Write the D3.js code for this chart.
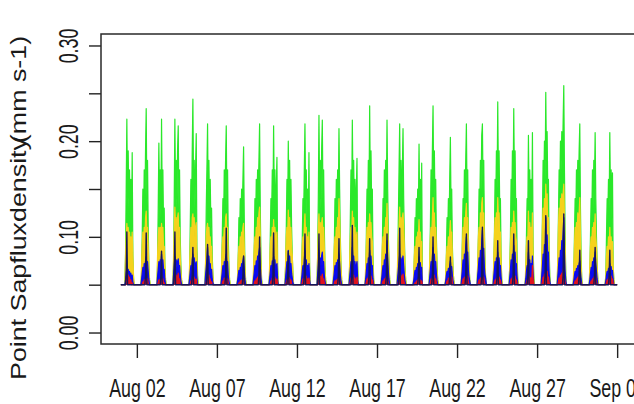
<!DOCTYPE html>
<html>
<head>
<meta charset="utf-8">
<script src="https://cdn.jsdelivr.net/npm/d3@7"></script>
<style>
  html, body { margin: 0; padding: 0; background: #fff; }
  svg { display: block; }
  text { font-family: "Liberation Sans", Arial, sans-serif; fill: #1a1a1a; }
</style>
</head>
<body>
<svg id="chart" width="634" height="404"></svg>
<script>
// Point sap flux density, August, five sensors.
// Each day is given as readings at the hours below; outside them the flux sits at the night floor.
const firstDay = "2016-08-01";
const hours = [7, 8, 9, 10, 11, 12, 13, 14, 15, 16, 17, 18, 19];
const nightValue = 0.05;

const xTickDates = ["2016-08-02", "2016-08-07", "2016-08-12", "2016-08-17", "2016-08-22", "2016-08-27", "2016-09-01"];
const yTicks = [0, 0.05, 0.10, 0.15, 0.20, 0.25, 0.30];
const yLabelled = [0, 0.10, 0.20, 0.30];
const yLimits = [0, 0.30];

const seriesGreen = [
  [0.08,0.15,0.223,0.14,0.19,0.13,0.17,0.12,0.16,0.11,0.188,0.08,0.055],
  [0.06,0.10,0.15,0.11,0.17,0.13,0.19,0.234,0.14,0.18,0.11,0.07,0.055],
  [0.07,0.13,0.198,0.13,0.17,0.12,0.223,0.14,0.17,0.11,0.13,0.07,0.055],
  [0.07,0.14,0.223,0.14,0.18,0.13,0.19,0.216,0.13,0.17,0.10,0.07,0.055],
  [0.06,0.11,0.16,0.12,0.19,0.244,0.15,0.18,0.13,0.17,0.208,0.09,0.06],
  [0.07,0.13,0.17,0.218,0.13,0.18,0.12,0.16,0.11,0.13,0.08,0.06,0.05],
  [0.06,0.10,0.14,0.11,0.17,0.13,0.18,0.216,0.13,0.17,0.10,0.07,0.055],
  [0.055,0.08,0.12,0.10,0.14,0.11,0.15,0.12,0.16,0.194,0.12,0.07,0.055],
  [0.06,0.09,0.14,0.11,0.16,0.13,0.17,0.14,0.18,0.218,0.13,0.08,0.055],
  [0.06,0.10,0.14,0.12,0.17,0.13,0.216,0.14,0.17,0.12,0.15,0.183,0.07],
  [0.07,0.11,0.16,0.12,0.20,0.14,0.18,0.12,0.16,0.11,0.08,0.06,0.05],
  [0.06,0.10,0.14,0.12,0.17,0.218,0.14,0.17,0.12,0.15,0.11,0.188,0.07],
  [0.08,0.14,0.227,0.14,0.18,0.13,0.19,0.222,0.14,0.17,0.11,0.07,0.055],
  [0.06,0.09,0.14,0.11,0.16,0.13,0.17,0.14,0.213,0.15,0.10,0.07,0.055],
  [0.07,0.12,0.17,0.13,0.222,0.15,0.18,0.13,0.16,0.12,0.15,0.182,0.07],
  [0.06,0.10,0.15,0.13,0.18,0.14,0.237,0.15,0.19,0.13,0.15,0.08,0.055],
  [0.06,0.09,0.14,0.12,0.17,0.13,0.18,0.14,0.222,0.15,0.10,0.07,0.055],
  [0.07,0.12,0.17,0.218,0.14,0.18,0.13,0.17,0.213,0.14,0.10,0.07,0.055],
  [0.055,0.08,0.12,0.10,0.14,0.11,0.15,0.12,0.197,0.13,0.16,0.11,0.177],
  [0.07,0.11,0.17,0.13,0.19,0.237,0.15,0.19,0.13,0.16,0.10,0.07,0.055],
  [0.055,0.08,0.12,0.10,0.14,0.11,0.16,0.204,0.13,0.15,0.09,0.065,0.055],
  [0.06,0.10,0.14,0.12,0.17,0.14,0.18,0.218,0.14,0.17,0.10,0.07,0.055],
  [0.07,0.10,0.15,0.13,0.18,0.15,0.206,0.218,0.15,0.18,0.11,0.07,0.055],
  [0.07,0.10,0.16,0.13,0.19,0.15,0.241,0.16,0.19,0.13,0.14,0.08,0.055],
  [0.07,0.10,0.16,0.13,0.19,0.15,0.234,0.16,0.19,0.13,0.14,0.08,0.055],
  [0.06,0.10,0.14,0.12,0.206,0.14,0.17,0.13,0.16,0.12,0.209,0.09,0.06],
  [0.07,0.12,0.18,0.15,0.20,0.16,0.251,0.18,0.21,0.15,0.16,0.09,0.06],
  [0.07,0.12,0.17,0.15,0.20,0.17,0.21,0.18,0.22,0.258,0.17,0.10,0.06],
  [0.06,0.10,0.14,0.12,0.17,0.14,0.18,0.15,0.19,0.218,0.13,0.08,0.055],
  [0.06,0.10,0.14,0.12,0.17,0.13,0.18,0.15,0.209,0.14,0.10,0.07,0.055],
  [0.06,0.10,0.14,0.12,0.16,0.13,0.209,0.14,0.17,0.12,0.167,0.07,0.055]
];

const seriesGold = [
  [0.08,0.10,0.114,0.10,0.11,0.095,0.105,0.09,0.10,0.085,0.105,0.08,0.06],
  [0.07,0.09,0.105,0.095,0.11,0.10,0.12,0.127,0.105,0.11,0.09,0.07,0.055],
  [0.08,0.10,0.11,0.095,0.11,0.10,0.114,0.10,0.11,0.09,0.09,0.07,0.055],
  [0.08,0.11,0.131,0.11,0.12,0.10,0.12,0.125,0.10,0.11,0.08,0.065,0.055],
  [0.07,0.09,0.11,0.095,0.12,0.124,0.11,0.12,0.10,0.11,0.115,0.08,0.055],
  [0.075,0.10,0.11,0.114,0.10,0.11,0.095,0.10,0.085,0.09,0.07,0.06,0.05],
  [0.07,0.09,0.10,0.095,0.11,0.10,0.12,0.124,0.10,0.11,0.08,0.065,0.055],
  [0.06,0.08,0.09,0.085,0.10,0.09,0.105,0.10,0.11,0.114,0.09,0.07,0.055],
  [0.07,0.09,0.10,0.095,0.11,0.10,0.12,0.11,0.125,0.131,0.10,0.075,0.055],
  [0.07,0.09,0.10,0.095,0.11,0.10,0.118,0.10,0.11,0.095,0.10,0.105,0.065],
  [0.075,0.10,0.11,0.10,0.128,0.11,0.12,0.10,0.11,0.09,0.08,0.06,0.05],
  [0.07,0.09,0.10,0.095,0.11,0.124,0.10,0.11,0.095,0.10,0.09,0.105,0.065],
  [0.08,0.11,0.124,0.10,0.115,0.10,0.115,0.12,0.10,0.11,0.09,0.065,0.055],
  [0.07,0.09,0.10,0.095,0.11,0.10,0.12,0.11,0.14,0.12,0.09,0.07,0.055],
  [0.075,0.10,0.11,0.10,0.127,0.11,0.12,0.10,0.11,0.095,0.10,0.105,0.065],
  [0.07,0.09,0.11,0.10,0.115,0.105,0.124,0.11,0.115,0.10,0.095,0.07,0.055],
  [0.07,0.09,0.10,0.095,0.11,0.10,0.12,0.11,0.135,0.11,0.09,0.07,0.055],
  [0.08,0.10,0.11,0.131,0.11,0.12,0.10,0.12,0.125,0.11,0.09,0.065,0.055],
  [0.06,0.08,0.09,0.085,0.10,0.09,0.105,0.10,0.118,0.10,0.105,0.09,0.095],
  [0.075,0.10,0.11,0.10,0.12,0.141,0.11,0.125,0.10,0.11,0.09,0.065,0.055],
  [0.06,0.08,0.09,0.085,0.10,0.09,0.105,0.117,0.10,0.105,0.08,0.065,0.055],
  [0.07,0.09,0.11,0.10,0.12,0.11,0.125,0.135,0.11,0.12,0.09,0.07,0.055],
  [0.075,0.10,0.11,0.10,0.125,0.11,0.135,0.141,0.11,0.125,0.10,0.07,0.055],
  [0.075,0.10,0.12,0.10,0.125,0.11,0.141,0.12,0.125,0.10,0.105,0.075,0.055],
  [0.07,0.09,0.11,0.10,0.115,0.105,0.127,0.11,0.115,0.10,0.095,0.07,0.055],
  [0.07,0.09,0.10,0.095,0.127,0.10,0.115,0.10,0.11,0.10,0.125,0.08,0.055],
  [0.08,0.11,0.13,0.11,0.14,0.12,0.155,0.13,0.145,0.11,0.12,0.08,0.055],
  [0.08,0.11,0.13,0.11,0.14,0.13,0.145,0.13,0.145,0.155,0.12,0.09,0.055],
  [0.07,0.09,0.11,0.10,0.115,0.105,0.125,0.11,0.125,0.141,0.10,0.07,0.055],
  [0.07,0.09,0.10,0.095,0.11,0.10,0.115,0.105,0.124,0.10,0.09,0.07,0.055],
  [0.06,0.08,0.09,0.085,0.10,0.09,0.11,0.09,0.10,0.085,0.095,0.07,0.055]
];

const seriesBlue = [
  [0.055,0.062,0.067,0.062,0.066,0.06,0.064,0.058,0.062,0.056,0.06,0.053,0.05],
  [0.055,0.062,0.068,0.064,0.072,0.068,0.075,0.079,0.07,0.074,0.064,0.056,0.05],
  [0.058,0.066,0.074,0.066,0.076,0.07,0.082,0.072,0.076,0.066,0.066,0.056,0.05],
  [0.06,0.07,0.079,0.072,0.076,0.068,0.074,0.077,0.068,0.07,0.06,0.054,0.05],
  [0.056,0.064,0.07,0.066,0.076,0.082,0.072,0.078,0.068,0.072,0.074,0.058,0.05],
  [0.06,0.068,0.076,0.089,0.074,0.08,0.068,0.072,0.062,0.066,0.056,0.052,0.05],
  [0.056,0.063,0.07,0.065,0.074,0.07,0.078,0.082,0.07,0.074,0.06,0.054,0.05],
  [0.054,0.06,0.065,0.062,0.068,0.065,0.072,0.07,0.075,0.079,0.066,0.056,0.05],
  [0.056,0.063,0.07,0.066,0.075,0.07,0.08,0.075,0.084,0.089,0.07,0.058,0.05],
  [0.056,0.063,0.07,0.066,0.075,0.07,0.08,0.072,0.076,0.066,0.07,0.072,0.055],
  [0.058,0.066,0.074,0.068,0.086,0.074,0.08,0.068,0.072,0.062,0.057,0.052,0.05],
  [0.056,0.064,0.07,0.066,0.076,0.086,0.072,0.076,0.066,0.07,0.066,0.072,0.055],
  [0.06,0.07,0.086,0.072,0.078,0.07,0.08,0.084,0.07,0.074,0.06,0.054,0.05],
  [0.056,0.063,0.07,0.065,0.073,0.068,0.076,0.072,0.082,0.072,0.06,0.054,0.05],
  [0.058,0.066,0.074,0.068,0.089,0.075,0.08,0.07,0.074,0.066,0.07,0.074,0.055],
  [0.056,0.064,0.072,0.068,0.078,0.072,0.086,0.074,0.08,0.068,0.07,0.056,0.05],
  [0.056,0.064,0.07,0.066,0.076,0.072,0.082,0.076,0.096,0.078,0.064,0.056,0.05],
  [0.058,0.066,0.074,0.082,0.072,0.078,0.07,0.076,0.08,0.07,0.06,0.054,0.05],
  [0.054,0.06,0.065,0.062,0.068,0.065,0.072,0.07,0.079,0.07,0.073,0.064,0.068],
  [0.058,0.066,0.074,0.068,0.08,0.089,0.074,0.082,0.07,0.074,0.062,0.054,0.05],
  [0.054,0.06,0.064,0.061,0.067,0.064,0.07,0.075,0.066,0.069,0.06,0.054,0.05],
  [0.058,0.066,0.076,0.07,0.082,0.076,0.09,0.10,0.078,0.084,0.066,0.058,0.054],
  [0.06,0.068,0.078,0.072,0.086,0.078,0.095,0.107,0.082,0.088,0.068,0.06,0.056],
  [0.058,0.066,0.074,0.068,0.078,0.072,0.084,0.074,0.078,0.068,0.07,0.058,0.05],
  [0.058,0.066,0.076,0.07,0.082,0.076,0.091,0.078,0.084,0.07,0.072,0.058,0.05],
  [0.056,0.064,0.07,0.066,0.084,0.07,0.076,0.068,0.072,0.068,0.08,0.062,0.05],
  [0.06,0.07,0.082,0.076,0.092,0.082,0.12,0.09,0.102,0.08,0.084,0.062,0.054],
  [0.058,0.068,0.078,0.072,0.086,0.08,0.096,0.088,0.105,0.12,0.084,0.064,0.054],
  [0.054,0.06,0.064,0.061,0.067,0.064,0.07,0.066,0.072,0.075,0.064,0.056,0.05],
  [0.055,0.062,0.068,0.064,0.074,0.07,0.078,0.074,0.084,0.072,0.064,0.056,0.05],
  [0.054,0.06,0.064,0.061,0.067,0.064,0.072,0.066,0.069,0.062,0.065,0.056,0.05]
];

const seriesRed = [
  [0.05,0.055,0.068,0.056,0.06,0.054,0.058,0.052,0.055,0.05,0.052,0.05,0.05],
  [0.05,0.05,0.053,0.051,0.055,0.053,0.057,0.062,0.054,0.056,0.051,0.05,0.05],
  [0.05,0.052,0.055,0.052,0.056,0.053,0.06,0.054,0.056,0.051,0.052,0.05,0.05],
  [0.05,0.054,0.066,0.055,0.06,0.054,0.058,0.062,0.053,0.056,0.051,0.05,0.05],
  [0.05,0.051,0.054,0.052,0.057,0.062,0.055,0.058,0.053,0.055,0.056,0.05,0.05],
  [0.05,0.053,0.057,0.064,0.055,0.06,0.053,0.056,0.051,0.053,0.05,0.05,0.05],
  [0.05,0.051,0.054,0.052,0.057,0.054,0.058,0.062,0.054,0.056,0.051,0.05,0.05],
  [0.05,0.05,0.052,0.051,0.054,0.052,0.055,0.053,0.056,0.058,0.052,0.05,0.05],
  [0.05,0.051,0.054,0.052,0.056,0.054,0.058,0.055,0.06,0.064,0.054,0.05,0.05],
  [0.05,0.051,0.054,0.052,0.057,0.054,0.062,0.055,0.058,0.053,0.055,0.056,0.05],
  [0.05,0.052,0.055,0.052,0.06,0.054,0.057,0.052,0.055,0.051,0.05,0.05,0.05],
  [0.05,0.052,0.056,0.053,0.058,0.066,0.055,0.059,0.053,0.056,0.054,0.057,0.05],
  [0.05,0.054,0.064,0.055,0.059,0.054,0.058,0.061,0.054,0.056,0.052,0.05,0.05],
  [0.05,0.051,0.054,0.052,0.055,0.053,0.056,0.054,0.06,0.055,0.052,0.05,0.05],
  [0.05,0.053,0.057,0.054,0.066,0.056,0.06,0.054,0.057,0.053,0.055,0.058,0.05],
  [0.05,0.052,0.056,0.053,0.058,0.055,0.064,0.056,0.059,0.054,0.055,0.051,0.05],
  [0.05,0.051,0.054,0.052,0.056,0.054,0.058,0.055,0.062,0.056,0.052,0.05,0.05],
  [0.05,0.053,0.057,0.064,0.056,0.06,0.054,0.058,0.061,0.055,0.052,0.05,0.05],
  [0.05,0.05,0.052,0.051,0.054,0.052,0.055,0.053,0.058,0.054,0.055,0.052,0.054],
  [0.05,0.052,0.056,0.053,0.058,0.064,0.056,0.06,0.054,0.056,0.052,0.05,0.05],
  [0.05,0.051,0.054,0.052,0.057,0.054,0.059,0.065,0.055,0.058,0.052,0.05,0.05],
  [0.05,0.052,0.056,0.053,0.058,0.055,0.06,0.064,0.056,0.059,0.053,0.05,0.05],
  [0.05,0.052,0.055,0.053,0.057,0.055,0.059,0.062,0.055,0.058,0.053,0.05,0.05],
  [0.05,0.052,0.055,0.053,0.057,0.055,0.062,0.056,0.058,0.054,0.055,0.051,0.05],
  [0.05,0.052,0.056,0.053,0.058,0.055,0.064,0.056,0.059,0.054,0.055,0.051,0.05],
  [0.05,0.052,0.055,0.053,0.062,0.055,0.058,0.054,0.057,0.055,0.07,0.056,0.05],
  [0.05,0.053,0.058,0.055,0.061,0.057,0.068,0.06,0.064,0.056,0.058,0.052,0.05],
  [0.05,0.053,0.057,0.055,0.06,0.057,0.062,0.059,0.065,0.07,0.058,0.052,0.05],
  [0.05,0.051,0.054,0.052,0.056,0.054,0.058,0.055,0.059,0.062,0.054,0.05,0.05],
  [0.05,0.051,0.054,0.052,0.056,0.054,0.058,0.055,0.064,0.056,0.053,0.05,0.05],
  [0.05,0.052,0.055,0.053,0.057,0.055,0.066,0.056,0.059,0.054,0.056,0.051,0.05]
];

const seriesNavy = [
  [0.05,0.06,0.105,0.05,0.05,0.05,0.05,0.05,0.05,0.05,0.05,0.05,0.05],
  [0.05,0.05,0.05,0.05,0.05,0.05,0.06,0.104,0.05,0.05,0.05,0.05,0.05],
  [0.05,0.05,0.05,0.05,0.05,0.06,0.085,0.05,0.05,0.05,0.05,0.05,0.05],
  [0.05,0.06,0.105,0.05,0.05,0.05,0.05,0.05,0.05,0.05,0.05,0.05,0.05],
  [0.05,0.05,0.05,0.05,0.06,0.089,0.05,0.05,0.05,0.05,0.05,0.05,0.05],
  [0.05,0.05,0.06,0.092,0.05,0.05,0.05,0.05,0.05,0.05,0.05,0.05,0.05],
  [0.05,0.05,0.05,0.05,0.05,0.05,0.06,0.109,0.05,0.05,0.05,0.05,0.05],
  [0.05,0.05,0.05,0.05,0.05,0.05,0.05,0.05,0.06,0.08,0.05,0.05,0.05],
  [0.05,0.05,0.05,0.05,0.05,0.05,0.05,0.05,0.06,0.10,0.05,0.05,0.05],
  [0.05,0.05,0.05,0.05,0.05,0.06,0.104,0.05,0.05,0.05,0.05,0.05,0.05],
  [0.05,0.05,0.05,0.06,0.085,0.05,0.05,0.05,0.05,0.05,0.05,0.05,0.05],
  [0.05,0.05,0.05,0.05,0.06,0.103,0.05,0.05,0.05,0.05,0.05,0.05,0.05],
  [0.05,0.06,0.103,0.05,0.05,0.05,0.05,0.05,0.05,0.05,0.05,0.05,0.05],
  [0.05,0.05,0.05,0.05,0.05,0.05,0.05,0.06,0.098,0.05,0.05,0.05,0.05],
  [0.05,0.05,0.05,0.06,0.112,0.05,0.05,0.05,0.05,0.05,0.05,0.05,0.05],
  [0.05,0.05,0.05,0.05,0.05,0.06,0.098,0.05,0.05,0.05,0.05,0.05,0.05],
  [0.05,0.05,0.05,0.05,0.05,0.05,0.05,0.06,0.103,0.05,0.05,0.05,0.05],
  [0.05,0.05,0.06,0.109,0.05,0.05,0.05,0.05,0.05,0.05,0.05,0.05,0.05],
  [0.05,0.05,0.05,0.05,0.05,0.05,0.05,0.06,0.089,0.05,0.05,0.05,0.05],
  [0.05,0.05,0.05,0.05,0.06,0.10,0.05,0.05,0.05,0.05,0.05,0.05,0.05],
  [0.05,0.05,0.05,0.05,0.05,0.05,0.06,0.079,0.05,0.05,0.05,0.05,0.05],
  [0.05,0.05,0.05,0.05,0.05,0.05,0.06,0.103,0.05,0.05,0.05,0.05,0.05],
  [0.05,0.05,0.05,0.05,0.05,0.05,0.06,0.11,0.05,0.05,0.05,0.05,0.05],
  [0.05,0.05,0.05,0.05,0.05,0.06,0.096,0.05,0.05,0.05,0.05,0.05,0.05],
  [0.05,0.05,0.05,0.05,0.05,0.06,0.103,0.05,0.05,0.05,0.05,0.05,0.05],
  [0.05,0.05,0.05,0.06,0.096,0.05,0.05,0.05,0.05,0.05,0.05,0.05,0.05],
  [0.05,0.05,0.05,0.05,0.05,0.06,0.122,0.05,0.05,0.05,0.05,0.05,0.05],
  [0.05,0.05,0.05,0.05,0.05,0.05,0.05,0.05,0.06,0.124,0.05,0.05,0.05],
  [0.05,0.05,0.05,0.05,0.05,0.05,0.05,0.05,0.06,0.086,0.05,0.05,0.05],
  [0.05,0.05,0.05,0.05,0.05,0.05,0.05,0.06,0.089,0.05,0.05,0.05,0.05],
  [0.05,0.05,0.05,0.05,0.05,0.06,0.086,0.05,0.05,0.05,0.05,0.05,0.05]
];

// Drawing order: the later series sit on top. Dense sensors are shaded down to the night floor.
const seriesList = [
  { profiles: seriesGreen, color: "#2ae82a", shade: true },
  { profiles: seriesGold,  color: "#f5d21c", shade: true },
  { profiles: seriesBlue,  color: "#0a0af0", shade: true },
  { profiles: seriesRed,   color: "#e0141e", shade: true },
  { profiles: seriesNavy,  color: "#16165a", shade: false }
];

// ---- layout ----
const plot = { left: 101, top: 34, right: 637, bottom: 344 };

const day0 = d3.utcParse("%Y-%m-%d")(firstDay);

function buildPoints(profiles) {
  const pts = [{ t: day0, v: nightValue }];
  profiles.forEach((p, i) => {
    const day = d3.utcDay.offset(day0, i);
    pts.push({ t: d3.utcHour.offset(day, hours[0] - 1), v: nightValue });
    p.forEach((v, k) => pts.push({ t: d3.utcHour.offset(day, hours[k]), v }));
    pts.push({ t: d3.utcHour.offset(day, hours[hours.length - 1] + 1), v: nightValue });
  });
  pts.push({ t: d3.utcDay.offset(day0, profiles.length), v: nightValue });
  return pts;
}

const allSeries = seriesList.map(s => ({ ...s, points: buildPoints(s.profiles) }));

// R-style 4% padding of both axis ranges
const tExtent = d3.extent(allSeries[0].points, d => d.t);
const tPad = (tExtent[1] - tExtent[0]) * 0.04;
const x = d3.scaleUtc()
  .domain([new Date(+tExtent[0] - tPad), new Date(+tExtent[1] + tPad)])
  .range([plot.left, plot.right]);

const yPad = (yLimits[1] - yLimits[0]) * 0.04;
const y = d3.scaleLinear()
  .domain([yLimits[0] - yPad, yLimits[1] + yPad])
  .range([plot.bottom, plot.top]);

const svg = d3.select("#chart");

svg.append("defs").append("clipPath").attr("id", "plotClip")
  .append("rect")
  .attr("x", plot.left).attr("y", plot.top)
  .attr("width", plot.right - plot.left).attr("height", plot.bottom - plot.top);

const line = d3.line().x(d => x(d.t)).y(d => y(d.v));
const area = d3.area().x(d => x(d.t)).y0(y(nightValue)).y1(d => y(d.v));

const layers = svg.append("g").attr("clip-path", "url(#plotClip)")
  .selectAll("g")
  .data(allSeries)
  .join("g");

layers.filter(d => d.shade)
  .append("path")
  .attr("d", d => area(d.points))
  .attr("fill", d => d.color)
  .attr("stroke", "none");

layers.append("path")
  .attr("d", d => line(d.points))
  .attr("fill", "none")
  .attr("stroke", d => d.color)
  .attr("stroke-width", d => d.shade ? 1.2 : 1.4)
  .attr("stroke-linejoin", "round");

// ---- axes ----
const condense = 0.66;
const fmt = d3.format(".2f");

const xAxis = d3.axisBottom(x)
  .tickValues(xTickDates.map(d3.utcParse("%Y-%m-%d")))
  .tickFormat(d3.utcFormat("%b %d"))
  .tickSize(14)
  .tickSizeOuter(0);

const gx = svg.append("g").attr("transform", `translate(0,${plot.bottom})`).call(xAxis);
gx.select(".domain").remove();
gx.selectAll(".tick line").attr("stroke", "#222").attr("stroke-width", 1.4);
gx.selectAll(".tick text")
  .attr("y", null).attr("dy", null)
  .attr("font-size", 26)
  .attr("fill", "#1a1a1a")
  .attr("text-anchor", "middle")
  .attr("transform", `translate(0,53) scale(${condense * 27 / 26},1)`);

const yAxis = d3.axisLeft(y)
  .tickValues(yTicks)
  .tickFormat(d => yLabelled.some(v => Math.abs(v - d) < 1e-9) ? fmt(d) : "")
  .tickSize(12)
  .tickSizeOuter(0);

const gy = svg.append("g").attr("transform", `translate(${plot.left},0)`).call(yAxis);
gy.select(".domain").remove();
gy.selectAll(".tick line").attr("stroke", "#222").attr("stroke-width", 1.4);
gy.selectAll(".tick text")
  .attr("x", null).attr("dy", null)
  .attr("font-size", 27)
  .attr("fill", "#1a1a1a")
  .attr("text-anchor", "middle")
  .attr("transform", `translate(-23,0) rotate(-90) scale(${condense},1)`);

// plot frame
svg.append("rect")
  .attr("x", plot.left).attr("y", plot.top)
  .attr("width", plot.right - plot.left).attr("height", plot.bottom - plot.top)
  .attr("fill", "none").attr("stroke", "#2a2a2a").attr("stroke-width", 1.5);

// y-axis title
const title = svg.append("text")
  .attr("transform", `translate(26,380) rotate(-90) scale(1.22,1)`)
  .attr("font-size", 22)
  .attr("fill", "#1a1a1a")
  .attr("text-anchor", "start");
title.append("tspan").text("Point Sapfluxdensity");
title.append("tspan").attr("dx", -5).text("(mm s-1)");
</script>
</body>
</html>
